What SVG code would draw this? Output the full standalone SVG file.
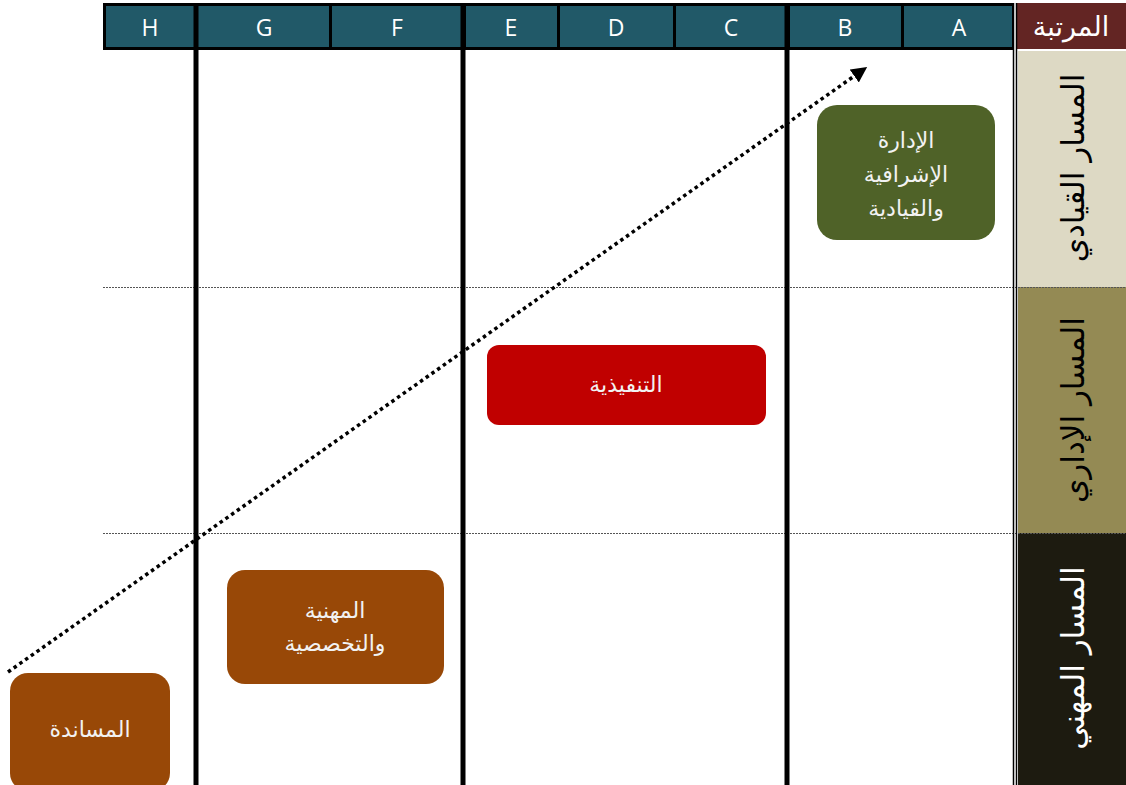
<svg xmlns="http://www.w3.org/2000/svg" width="1126" height="785" viewBox="0 0 1126 785">
<style>
.hdr{fill:#215968}
.let{font-family:"Open Sans","Liberation Sans",sans-serif;font-size:23px;fill:#ffffff;text-anchor:middle}
.ar{font-family:"DejaVu Sans",sans-serif;text-anchor:middle}
.box{font-size:22px;fill:#f2f2f2}
.side{font-size:31px}
.vline{stroke:#000;stroke-width:5}
.hdot{stroke:#555;stroke-width:1.2;stroke-dasharray:2 1}
</style>
<defs>
<marker id="ah" markerWidth="4.5" markerHeight="4.5" refX="2" refY="2.25" orient="auto" markerUnits="strokeWidth">
<path d="M0,0 L4.5,2.25 L0,4.5 Z" fill="#000"/>
</marker>
</defs>
<rect width="1126" height="785" fill="#ffffff"/>
<g id="header">
<rect x="103" y="3" width="911" height="47" fill="#000"/>
<rect class="hdr" x="106" y="6" width="88" height="41"/>
<rect class="hdr" x="198" y="6" width="131" height="41"/>
<rect class="hdr" x="332" y="6" width="129" height="41"/>
<rect class="hdr" x="466" y="6" width="91" height="41"/>
<rect class="hdr" x="560" y="6" width="113" height="41"/>
<rect class="hdr" x="676" y="6" width="109" height="41"/>
<rect class="hdr" x="790" y="6" width="111" height="41"/>
<rect class="hdr" x="904" y="6" width="108" height="41"/>
<text class="let" x="150" y="36">H</text>
<text class="let" x="264" y="36">G</text>
<text class="let" x="397" y="36">F</text>
<text class="let" x="511" y="36">E</text>
<text class="let" x="616" y="36">D</text>
<text class="let" x="731" y="36">C</text>
<text class="let" x="845" y="36">B</text>
<text class="let" x="959" y="36">A</text>
<rect x="1017" y="3" width="109" height="46" fill="#632523"/>
<text class="ar" x="1071" y="36" font-size="27" fill="#ffffff">المرتبة</text>
</g>
<g id="side">
<rect x="1018" y="51" width="108" height="236" fill="#DDD9C4"/>
<rect x="1018" y="287" width="108" height="246" fill="#948A54"/>
<rect x="1018" y="533" width="108" height="252" fill="#1D1B10"/>
<text class="ar side" transform="translate(1084,168) rotate(-90)" fill="#000">المسار القيادي</text>
<text class="ar side" transform="translate(1084,410) rotate(-90)" fill="#000">المسار الإداري</text>
<text class="ar side" transform="translate(1084,658) rotate(-90)" fill="#ffffff">المسار المهني</text>
</g>
<g id="grid">
<line class="hdot" x1="103" y1="287.5" x2="1126" y2="287.5"/>
<line class="hdot" x1="103" y1="533.5" x2="1126" y2="533.5"/>
<line class="vline" x1="196" y1="3" x2="196" y2="785"/>
<line class="vline" x1="463" y1="3" x2="463" y2="785"/>
<line class="vline" x1="787" y1="3" x2="787" y2="785"/>
<line stroke="#000" stroke-width="1.5" x1="1013.5" y1="3" x2="1013.5" y2="785"/>
<line stroke="#000" stroke-width="1.5" x1="1016.5" y1="3" x2="1016.5" y2="785"/>
</g>
<g id="n-leadership">
<rect x="817" y="105" width="178" height="135" rx="20" fill="#4F6228"/>
<text class="ar box" x="906" y="148">الإدارة</text>
<text class="ar box" x="906" y="182">الإشرافية</text>
<text class="ar box" x="906" y="216">والقيادية</text>
</g>
<g id="n-executive">
<rect x="487" y="345" width="279" height="80" rx="12" fill="#C00000"/>
<text class="ar box" x="626" y="392">التنفيذية</text>
</g>
<g id="n-professional">
<rect x="227" y="570" width="217" height="114" rx="18" fill="#984807"/>
<text class="ar box" x="335" y="618">المهنية</text>
<text class="ar box" x="335" y="651">والتخصصية</text>
</g>
<g id="n-support">
<rect x="10" y="673" width="160" height="118" rx="18" fill="#984807"/>
<text class="ar box" x="90" y="737">المساندة</text>
</g>
<g id="connectors">
<line x1="8" y1="672" x2="860" y2="72" stroke="#000" stroke-width="3.5" stroke-dasharray="3.5 3.5" marker-end="url(#ah)"/>
</g>
</svg>
